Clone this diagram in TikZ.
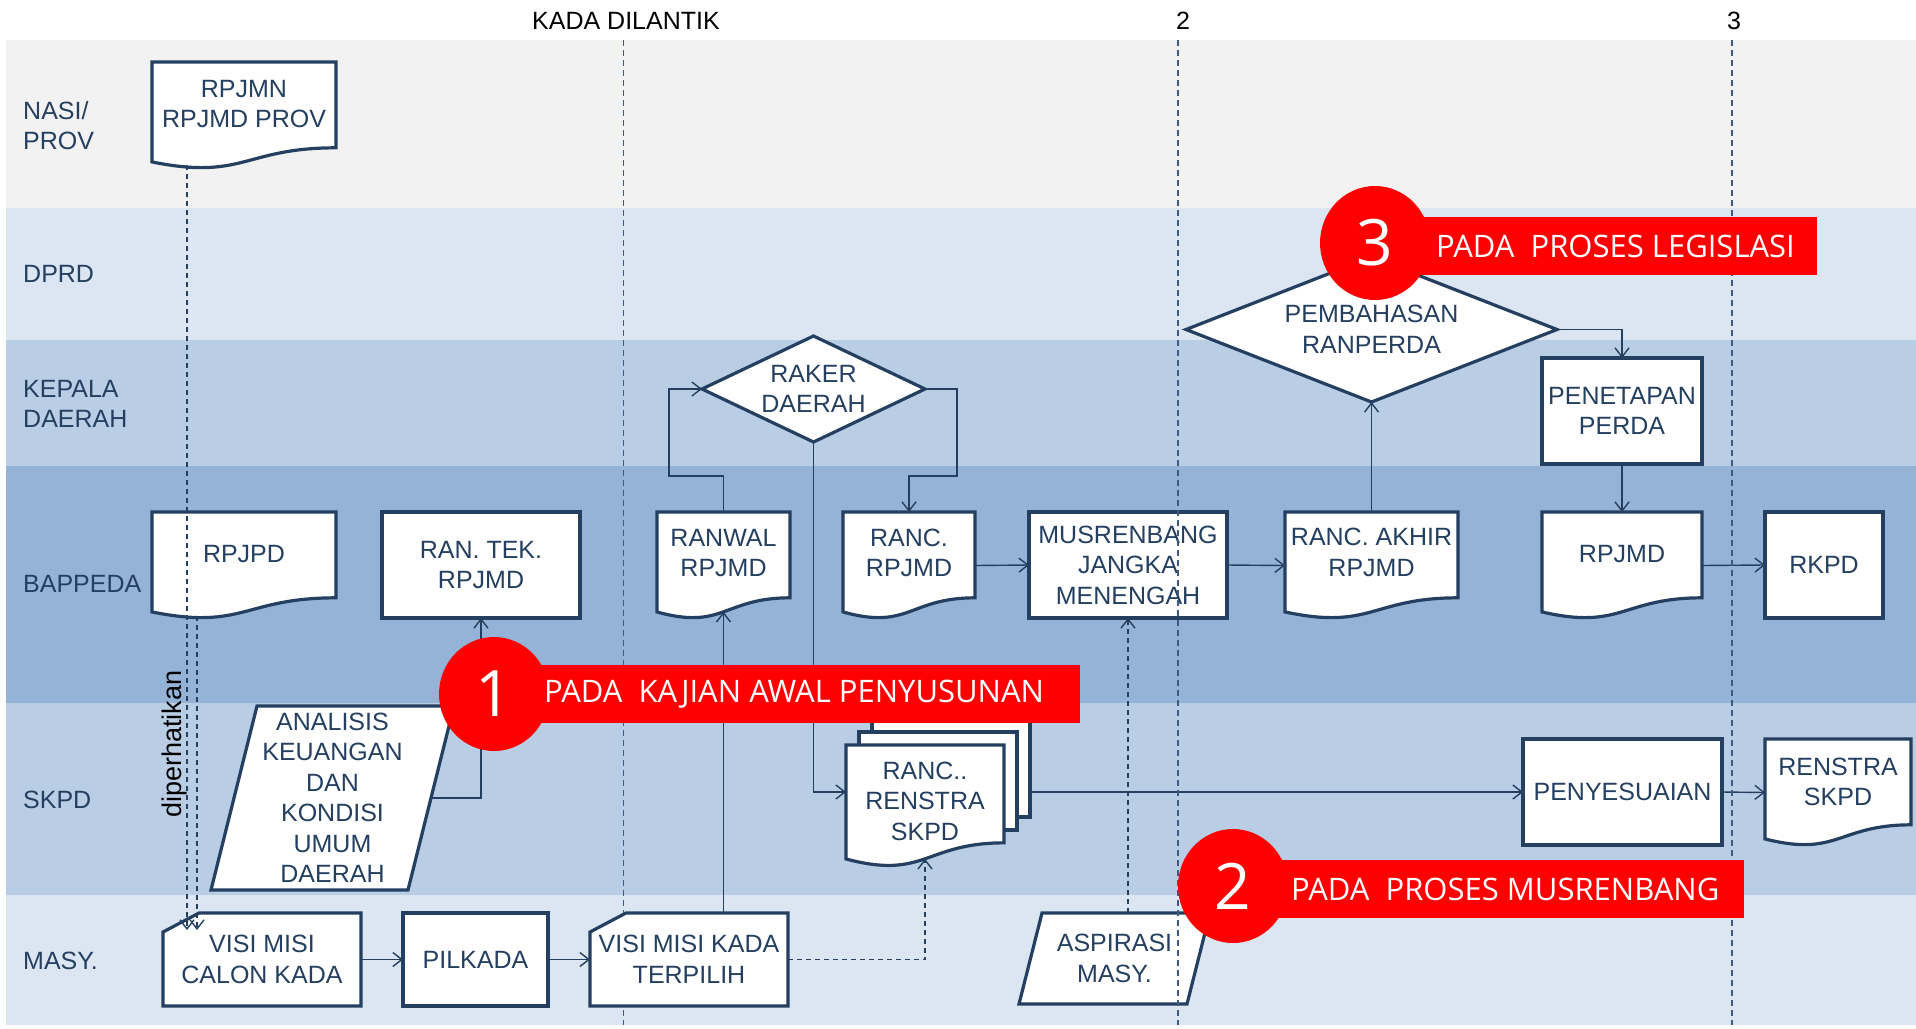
\documentclass[tikz,border=0pt]{standalone}
\usepackage{fontspec}
\setmainfont{Liberation Sans}
\newfontfamily\callfont{Open Sans}
\usetikzlibrary{calc,arrows.meta,shapes.geometric}
\pgfdeclarelayer{bg}\pgfdeclarelayer{shapes}
\pgfsetlayers{bg,shapes,main}
\definecolor{navy}{HTML}{243F60}
\definecolor{laneA}{HTML}{F2F2F2}
\definecolor{laneB}{HTML}{DCE6F2}
\definecolor{laneC}{HTML}{B9CDE5}
\definecolor{laneD}{HTML}{95B3D7}
\definecolor{tline}{HTML}{3F5A80}
\definecolor{callred}{HTML}{FF0000}
\newcommand\bxfont{\fontsize{25}{30.5}\selectfont}
\newcommand\docout[1]{\draw[outl] (#1.north west) -- (#1.north east) -- ($(#1.north east)!0.802!(#1.south east)$) .. controls ($(#1.north)!0.802!(#1.south)$) and ($(#1.north)!1.107!(#1.south)$) .. ($(#1.north west)!0.934!(#1.south west)$) -- cycle;}
\newcommand\snipout[1]{\draw[outl] ($(#1.north west)+(0,19)$) -- ($(#1.north west)+(36,0)$) -- (#1.north east) -- (#1.south east) -- (#1.south west) -- cycle;}
\newcommand\paraout[2]{\draw[outl] ($(#1.north west)+(#2,0)$) -- (#1.north east) -- ($(#1.south east)+(-#2,0)$) -- (#1.south west) -- cycle;}
\newcommand\diaout[1]{\draw[outl] (#1.west) -- (#1.north) -- (#1.east) -- (#1.south) -- cycle;}
\begin{document}
\begin{tikzpicture}[x=1pt,y=-1pt,
  shp/.style={draw=none, inner sep=0pt, outer sep=0pt, align=center, text=navy, font=\bxfont},
  rectbox/.style={shp, draw=navy, line width=3.2pt, fill=white},
  outl/.style={draw=navy, line width=3.2pt, fill=white},
  txt/.style={inner sep=0pt, align=center, text=navy, font=\bxfont},
  lanelbl/.style={anchor=west, inner sep=0pt, align=left, text=navy, font=\bxfont},
  toplbl/.style={inner sep=0pt, font=\bxfont, text=black},
  conn/.style={draw=navy, line width=1.4pt, -{Straight Barb[length=9pt,width=14pt]}},
  dconn/.style={conn, dash pattern=on 5pt off 4pt},
  tl/.style={draw=tline, line width=1.3pt, dash pattern=on 6pt off 4pt},
  callbar/.style={fill=callred, draw=none, inner sep=0pt, outer sep=0pt, anchor=west, minimum height=58pt},
  callcirc/.style={ellipse, fill=callred, draw=none, inner sep=0pt, minimum width=110pt, minimum height=114pt, text=white, font=\callfont\fontsize{64}{64}\selectfont},
  calltxt/.style={anchor=west, inner sep=0pt, text=white, font=\callfont\fontsize{31}{31}\selectfont},
]
\useasboundingbox (0,0) rectangle (1916,1028);
\begin{pgfonlayer}{bg}
\fill[white] (0,0) rectangle (1916,1028);
\fill[laneA] (6,40) rectangle (1916,208);
\fill[laneB] (6,208) rectangle (1916,340);
\fill[laneC] (6,340) rectangle (1916,466);
\fill[laneD] (6,466) rectangle (1916,703);
\fill[laneC] (6,703) rectangle (1916,895);
\fill[laneB] (6,895) rectangle (1916,1025);
\draw[tl] (623.5,40) -- (623.5,1025);
\end{pgfonlayer}

% top labels
\node[toplbl] (kada) at (626,21) {KADA DILANTIK};
\node[toplbl] (two) at (1183,21) {2};
\node[toplbl] (three) at (1734,21) {3};

% lane labels
\node[lanelbl] (l-nasi) at (23,125.5) {NASI/\\PROV};
\node[lanelbl] (l-dprd) at (23,274) {DPRD};
\node[lanelbl] (l-kd) at (23,404) {KEPALA\\DAERAH};
\node[lanelbl] (l-bap) at (23,584) {BAPPEDA};
\node[lanelbl] (l-skpd) at (23,800) {SKPD};
\node[lanelbl] (l-masy) at (23,961) {MASY.};

% nodes
\node[shp, minimum width=184pt, minimum height=107pt] (rpjmn) at (244,115.5) {};
\node[txt] (rpjmn-t) at (244,104) {RPJMN\\RPJMD PROV};
\node[shp, minimum width=184pt, minimum height=107pt] (rpjpd) at (244,565.5) {};
\node[txt] (rpjpd-t) at (244,554) {RPJPD};
\node[rectbox, minimum width=198pt, minimum height=106pt] (rantek) at (481,565) {RAN. TEK.\\RPJMD};
\node[shp, minimum width=133pt, minimum height=107pt] (ranwal) at (723.5,565.5) {};
\node[txt] (ranwal-t) at (723.5,553) {RANWAL\\RPJMD};
\node[shp, minimum width=132pt, minimum height=107pt] (rancr) at (909,565.5) {};
\node[txt] (rancr-t) at (909,553) {RANC.\\RPJMD};
\node[rectbox, minimum width=198pt, minimum height=106pt] (musren) at (1128,565) {MUSRENBANG\\JANGKA\\MENENGAH};
\node[shp, minimum width=173pt, minimum height=107pt] (rancakhir) at (1371.5,565.5) {};
\node[txt] (rancakhir-t) at (1371.5,552.5) {RANC. AKHIR\\RPJMD};
\node[shp, minimum width=160pt, minimum height=107pt] (rpjmd) at (1622,565.5) {};
\node[txt] (rpjmd-t) at (1622,554) {RPJMD};
\node[rectbox, minimum width=118pt, minimum height=106pt] (rkpd) at (1824,565) {RKPD};
\node[shp, minimum width=223pt, minimum height=106pt] (raker) at (813.5,389) {RAKER\\DAERAH};
\node[shp, minimum width=371pt, minimum height=145pt] (pembahasan) at (1371.5,329.5) {PEMBAHASAN\\RANPERDA};
\node[rectbox, minimum width=160pt, minimum height=106pt] (penetapan) at (1622,411) {PENETAPAN\\PERDA};
\node[shp, minimum width=243pt, minimum height=184pt] (analisis) at (332.5,798) {ANALISIS\\KEUANGAN\\DAN\\KONDISI\\UMUM\\DAERAH};
\node[shp, minimum width=158pt, minimum height=98pt] (rrp3) at (951,768) {};
\node[shp, minimum width=158pt, minimum height=98pt] (rrp2) at (938,781) {};
\node[shp, minimum width=158pt, minimum height=122pt] (rancrenstra) at (925,806) {};
\node[txt] (rancrenstra-t) at (925,801) {RANC..\\RENSTRA\\SKPD};
\node[rectbox, minimum width=199pt, minimum height=106pt] (penyesuaian) at (1622.5,792) {PENYESUAIAN};
\node[shp, minimum width=146pt, minimum height=107pt] (renstra) at (1838,792.5) {};
\node[txt] (renstra-t) at (1838,782) {RENSTRA\\SKPD};
\node[shp, minimum width=198pt, minimum height=93pt] (visicalon) at (262,959.5) {VISI MISI\\CALON KADA};
\node[rectbox, minimum width=145pt, minimum height=93pt] (pilkada) at (475.5,959.5) {PILKADA};
\node[shp, minimum width=198pt, minimum height=93pt] (visikada) at (689,959.5) {VISI MISI KADA\\TERPILIH};
\node[shp, minimum width=191pt, minimum height=91pt] (aspirasi) at (1114.5,958.5) {ASPIRASI\\MASY.};

\begin{pgfonlayer}{shapes}
\docout{rpjmn}
\docout{rpjpd}
\docout{ranwal}
\docout{rancr}
\docout{rancakhir}
\docout{rpjmd}
\docout{renstra}
\draw[outl] (rrp3.north west) rectangle (rrp3.south east);
\draw[outl] (rrp2.north west) rectangle (rrp2.south east);
\docout{rancrenstra}
\diaout{raker}
\diaout{pembahasan}
\paraout{analisis}{46}
\paraout{aspirasi}{23}
\snipout{visicalon}
\snipout{visikada}
\end{pgfonlayer}

% diperhatikan
\node[rotate=90, inner sep=0pt, text=black, font=\fontsize{27}{27}\selectfont] (dip) at (175,744) {diperhatikan};

% connectors
\coordinate (d1a) at (187,165); \coordinate (d1b) at (187,930);
\coordinate (d2a) at (197,616); \coordinate (d2b) at (197,930);
\draw[dconn] (d1a) -- (d1b);
\draw[dconn] (d2a) -- (d2b);
\coordinate (an-out) at (431,798);
\draw[conn] (an-out) -| (rantek.south);
\draw[conn] (visicalon.east) -- (pilkada.west);
\draw[conn] (pilkada.east) -- (visikada.west);
\coordinate (ranwal-b) at ($(ranwal.north)!0.933!(ranwal.south)$);
\draw[conn] (visikada.north -| ranwal-b) -- (ranwal-b);
\draw[conn] (ranwal.north) -- ++(0,-36) -| ($(raker.west)+(-33,0)$) -- (raker.west);
\draw[conn] (raker.east) -- ++(32,0) |- ($(rancr.north)+(0,-36)$) -- (rancr.north);
\coordinate (rr-in) at ($(rancrenstra.west)+(0,-14)$);
\draw[conn] (raker.south) |- (rr-in);
\draw[conn] (rancr.east) -- (musren.west);
\draw[conn] (musren.east) -- (rancakhir.west);
\draw[conn] (rancakhir.north) -- (pembahasan.south);
\draw[conn] (pembahasan.east) -| (penetapan.north);
\draw[conn] (penetapan.south) -- (rpjmd.north);
\draw[conn] (rpjmd.east) -- (rkpd.west);
\draw[conn] (rrp3.east |- penyesuaian.west) -- (penyesuaian.west);
\draw[conn] (penyesuaian.east) -- (renstra.west);
\coordinate (rr-b) at ($(rancrenstra.north)!0.933!(rancrenstra.south)$);
\draw[dconn] (visikada.east) -| (rr-b);
\draw[dconn] (aspirasi.north -| musren.south) -- (musren.south);

% timelines on top of shapes
\draw[tl] (1178,40) -- (1178,1025);
\draw[tl] (1732,40) -- (1732,1025);

% callouts
\node[callbar, minimum width=586pt] (bar1) at (494,694) {};
\node[callcirc] (c1) at (494,694) {1};
\node[calltxt] (t1) at (544,694) {PADA~~KAJIAN AWAL PENYUSUNAN};
\node[callbar, minimum width=511pt] (bar2) at (1233,889) {};
\node[callcirc] (c2) at (1233,886) {2};
\node[calltxt] (t2) at (1291,889) {PADA~~PROSES MUSRENBANG};
\node[callbar, minimum width=442pt] (bar3) at (1375,246) {};
\node[callcirc] (c3) at (1375,243) {3};
\node[calltxt] (t3) at (1436,246) {PADA~~PROSES LEGISLASI};
\end{tikzpicture}
\end{document}
